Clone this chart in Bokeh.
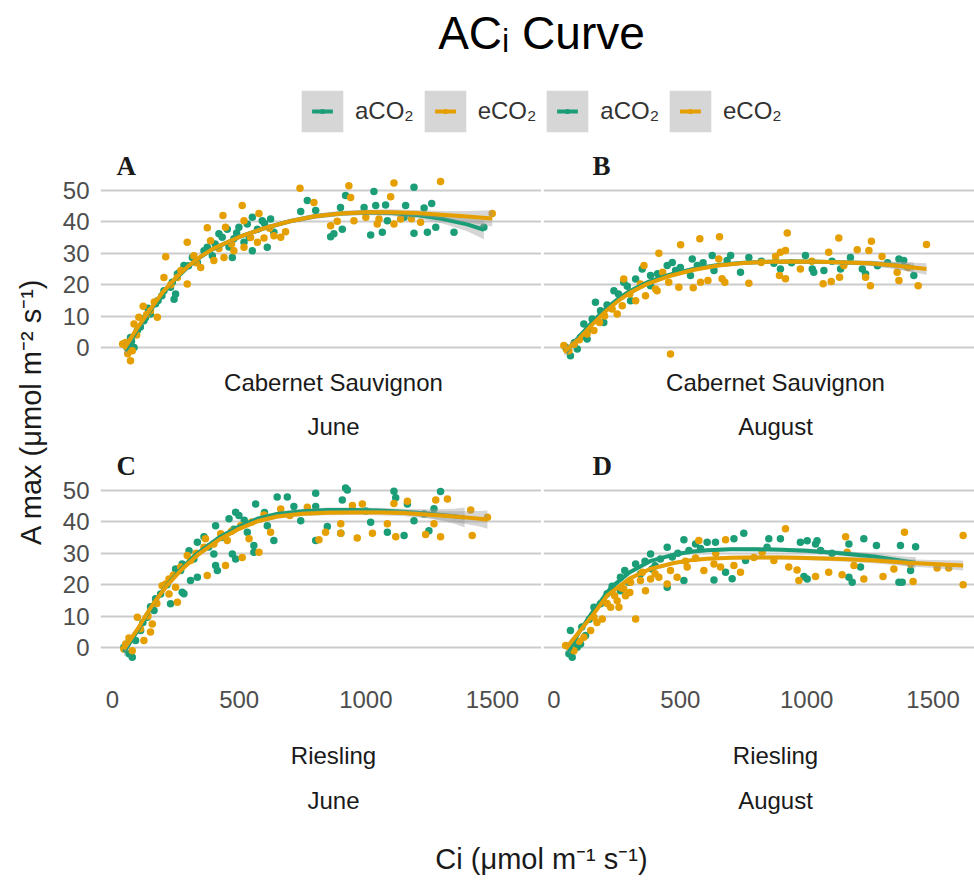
from math import pi
from bokeh.plotting import figure
from bokeh.models import Range1d, FixedTicker, Label, Legend, LegendItem, ColumnDataSource
from bokeh.layouts import column, row
from bokeh.embed import file_html
from bokeh.resources import INLINE

# ---------------- data (Ci, A) ----------------
SERIES = ["aCO₂", "eCO₂"]
CULTIVARS = ["Cabernet Sauvignon", "Riesling"]
MONTHS = ["June", "August"]
TAGS = ["A", "B", "C", "D"]
Y_TICKS = [0, 10, 20, 30, 40, 50]
X_TICKS = [0, 500, 1000, 1500]

PTS_A_ACO2 = [(45,1.1),(60,0.5),(65,-1.0),(71,3.2),(75,2.0),(85,0.0),(98,5.4),(110,6.5),(124,8.5),(130,9.5),
              (140,12.5),(150,10.7),(170,13.9),(180,15.0),(195,16.5),(203,18.1),(229,19.2),(236,20.8),(243,15.4),
              (249,17.0),(256,23.4),(265,24.0),(282,26.1),(300,26.0),(315,28.7),(335,27.1),(361,30.8),(374,31.9),
              (394,29.2),(405,33.0),(420,36.2),(433,35.1),(453,37.7),(460,32.0),(473,28.7),(479,34.6),(490,36.5),
              (499,38.3),(519,33.5),(532,39.3),(540,35.0),(552,41.5),(552,30.8),(572,37.7),(591,40.4),(600,39.5),
              (611,31.9),(624,40.9),(637,36.7),(743,43.3),(769,46.8),(802,43.6),(861,35.3),(874,36.2),(900,44.6),
              (907,37.7),(920,48.4),(993,44.6),(1019,35.8),(1032,49.7),(1039,45.2),(1065,36.7),(1078,45.4),
              (1085,40.4),(1151,41.5),(1157,45.2),(1190,51.0),(1190,36.4),(1230,44.4),(1243,36.7),(1260,45.9),
              (1276,38.3),(1348,36.7),(1466,38.3)]
PTS_A_ECO2 = [(40,1.1),(52,1.6),(60,-2.0),(71,-4.2),(78,-1.0),(85,7.5),(95,4.0),(104,9.6),(121,13.1),(135,10.5),
              (150,11.7),(165,14.5),(177,9.6),(203,22.3),(210,28.9),(230,20.0),(256,22.3),(270,24.5),(295,33.5),
              (295,20.2),(321,29.2),(330,27.0),(348,25.5),(374,38.1),(387,34.0),(400,27.7),(420,31.5),(436,42.0),
              (440,28.7),(446,38.3),(470,33.0),(479,30.8),(512,45.2),(519,31.9),(519,40.4),(545,35.0),(572,33.5),
              (578,42.7),(598,34.9),(620,38.0),(637,35.6),(664,35.1),(683,36.9),(740,50.7),(795,46.2),(861,38.8),
              (887,40.2),(933,51.5),(940,47.8),(953,40.4),(1000,41.5),(1045,39.3),(1052,40.9),(1098,48.0),
              (1111,52.4),(1111,39.3),(1137,40.9),(1180,41.0),(1216,39.9),(1295,52.9),(1499,42.7)]
PTS_B_ACO2 = [(46,0.1),(65,-2.6),(80,1.5),(92,-0.5),(105,3.3),(118,7.5),(131,2.7),(140,6.0),(151,9.1),(164,14.4),
              (184,11.7),(197,8.0),(210,13.5),(237,18.1),(255,17.0),(276,20.8),(290,19.5),(303,14.9),(323,21.8),
              (349,25.0),(382,19.7),(382,22.9),(410,23.5),(448,26.1),(468,27.1),(481,24.5),(500,25.5),(540,22.9),
              (547,28.2),(567,26.1),(590,27.0),(626,29.3),(633,24.5),(685,27.7),(699,29.3),(738,24.0),(771,28.7),
              (820,27.5),(870,26.8),(896,25.0),(940,27.0),(995,29.3),(1022,25.0),(1028,24.0),(1068,24.5),
              (1100,27.5),(1134,25.0),(1173,28.7),(1220,25.0),(1233,23.4),(1280,26.0),(1320,27.0),(1365,28.2),
              (1384,27.7),(1424,22.9)]
PTS_B_ECO2 = [(39,0.6),(59,-1.0),(80,1.0),(100,2.5),(131,4.3),(158,5.4),(180,8.0),(200,10.0),(230,12.3),(250,10.7),
              (270,13.3),(276,21.8),(300,17.0),(323,14.9),(342,20.2),(356,26.1),(362,16.5),(402,18.6),(408,18.1),
              (415,30.0),(430,24.0),(454,20.8),(461,-2.1),(494,19.2),(501,32.7),(551,19.0),(577,34.6),(580,20.8),
              (609,21.3),(652,28.2),(655,35.3),(665,21.9),(676,20.8),(771,20.5),(820,27.1),(877,29.0),(892,22.9),
              (896,30.3),(916,30.9),(916,21.9),(923,36.5),(975,25.0),(1020,27.5),(1065,20.3),(1087,30.3),
              (1097,21.0),(1127,34.9),(1130,22.4),(1147,26.1),(1200,31.1),(1233,22.4),(1246,30.9),(1252,19.7),
              (1256,33.8),(1298,29.0),(1358,24.0),(1365,21.3),(1400,25.5),(1441,19.7),(1474,32.8)]
PTS_C_ACO2 = [(45,0.1),(55,1.0),(65,-2.0),(78,-3.1),(91,2.2),(111,5.4),(120,8.0),(137,9.6),(150,13.0),(164,11.8),
              (170,15.5),(190,17.0),(215,20.0),(229,13.9),(249,25.0),(269,24.5),(275,26.6),(275,17.6),(282,17.1),
              (302,30.8),(308,21.3),(321,28.2),(335,33.5),(335,22.4),(361,35.3),(380,32.0),(400,29.8),(407,38.8),
              (407,26.1),(414,24.5),(430,35.0),(460,41.0),(473,29.8),(479,37.7),(486,43.1),(486,28.2),(499,42.0),
              (520,40.5),(532,36.7),(558,32.5),(558,30.3),(565,45.7),(600,43.0),(611,38.8),(637,34.1),(650,47.9),
              (690,47.9),(716,44.9),(743,40.4),(802,49.1),(802,44.9),(802,34.1),(848,38.5),(901,36.4),(907,47.0),
              (920,50.8),(927,50.2),(1000,43.5),(1019,39.9),(1085,36.7),(1111,49.8),(1118,47.7),(1151,35.7),
              (1164,45.7),(1190,40.4),(1230,42.5),(1249,37.2),(1269,44.2),(1295,49.7)]
PTS_C_ECO2 = [(45,-0.5),(52,1.1),(65,3.0),(78,-1.0),(98,9.6),(110,6.0),(124,2.2),(140,10.0),(150,4.9),(157,7.5),
              (175,14.0),(196,19.7),(210,20.2),(223,21.8),(223,17.0),(240,23.0),(249,19.2),(256,14.4),(269,25.6),
              (295,29.3),(308,27.7),(330,30.0),(361,31.9),(367,34.6),(374,22.9),(400,33.0),(427,36.2),(446,26.1),
              (453,34.1),(470,37.0),(506,38.8),(512,28.7),(539,34.6),(550,40.0),(578,30.3),(598,42.2),(624,36.7),
              (664,44.1),(700,42.0),(769,44.7),(815,34.3),(841,36.7),(901,39.4),(901,36.4),(947,45.2),(966,34.9),
              (986,45.7),(1026,36.4),(1085,39.4),(1111,45.9),(1118,35.3),(1164,46.6),(1236,36.0),(1269,39.4),
              (1276,47.0),(1295,35.3),(1322,47.3),(1414,43.8),(1420,35.7),(1480,41.5)]
PTS_D_ACO2 = [(59,-2.0),(65,5.4),(72,-3.1),(80,2.0),(92,0.1),(105,1.1),(110,6.5),(125,3.8),(140,9.0),(158,12.8),
              (184,13.9),(210,17.1),(230,19.5),(263,22.4),(263,18.1),(280,24.5),(296,20.8),(323,26.6),(342,23.4),
              (360,27.5),(382,29.8),(388,25.0),(400,26.0),(421,28.2),(448,31.9),(448,19.2),(468,28.8),(490,30.0),
              (514,34.3),(514,21.3),(534,30.9),(560,33.0),(580,31.5),(606,33.5),(633,21.5),(639,33.5),(679,24.0),
              (705,21.9),(712,34.6),(751,36.4),(758,27.7),(843,31.9),(850,34.6),(896,34.6),(975,33.5),(989,22.6),
              (1002,21.8),(1002,34.0),(1035,33.0),(1041,34.0),(1055,30.9),(1100,30.0),(1167,33.0),(1167,22.4),
              (1180,20.8),(1213,25.6),(1226,34.6),(1276,32.5),(1365,20.8),(1371,32.5),(1378,20.8),(1411,24.5),
              (1431,32.1)]
PTS_D_ECO2 = [(46,0.6),(79,-1.0),(100,2.0),(118,3.3),(145,5.4),(158,9.6),(170,8.0),(191,9.1),(210,14.0),(224,12.8),
              (240,16.5),(250,14.9),(257,12.8),(265,19.0),(276,18.7),(283,16.5),(300,17.5),(303,20.8),(323,9.1),
              (342,21.3),(350,24.0),(362,18.1),(382,21.8),(400,23.5),(415,22.4),(448,20.2),(461,24.5),(487,22.4),
              (520,27.5),(527,25.6),(560,28.5),(573,34.1),(593,24.5),(633,26.6),(640,30.0),(659,25.6),(679,34.3),
              (712,26.1),(738,24.0),(791,28.7),(824,30.3),(870,27.7),(916,37.8),(929,25.6),(962,24.7),(969,21.3),
              (1035,22.6),(1087,24.0),(1140,23.2),(1154,35.3),(1160,30.3),(1187,26.1),(1226,21.8),(1302,22.6),
              (1345,25.0),(1387,36.7),(1411,26.6),(1421,21.0),(1516,25.3),(1562,25.3),(1619,35.7),(1619,20.0)]

# smoothed fits: (Ci, fit, half-width of the grey band)
FIT_A_ACO2 = [(50,-1.0,1.6),(100,6.0,1.1),(150,11.8,0.9),(200,17.5,0.8),(250,22.0,0.8),(300,25.8,0.7),(350,29.0,0.7),
              (400,31.5,0.7),(500,35.2,0.7),(600,38.0,0.7),(700,40.2,0.7),(800,41.8,0.8),(900,42.7,0.8),(1000,43.0,0.8),
              (1100,42.8,0.9),(1200,42.2,1.0),(1300,41.0,1.4),(1400,39.2,2.2),(1466,37.5,3.0)]
FIT_A_ECO2 = [(45,-0.5,1.6),(100,6.5,1.1),(150,12.2,0.9),(200,17.8,0.8),(250,22.2,0.8),(300,26.0,0.7),(350,29.1,0.7),
              (400,31.6,0.7),(500,35.2,0.7),(600,38.0,0.7),(700,40.2,0.7),(800,41.8,0.8),(900,42.7,0.8),(1000,43.1,0.8),
              (1100,43.1,0.9),(1200,42.8,1.0),(1300,42.3,1.2),(1400,41.7,1.8),(1499,41.1,2.6)]
FIT_B_ACO2 = [(46,-1.5,1.2),(100,3.5,0.9),(150,8.0,0.7),(200,12.0,0.6),(250,15.3,0.6),(300,18.0,0.6),(370,20.8,0.6),
              (450,23.0,0.6),(550,25.0,0.6),(650,26.3,0.6),(750,27.0,0.6),(850,27.3,0.6),(950,27.4,0.6),(1050,27.3,0.6),
              (1150,27.1,0.7),(1250,26.8,0.8),(1350,26.2,1.1),(1424,25.5,1.6)]
FIT_B_ECO2 = [(39,-1.5,1.2),(100,2.8,0.9),(150,7.2,0.7),(200,11.2,0.6),(250,14.6,0.6),(300,17.4,0.6),(370,20.3,0.6),
              (450,22.6,0.6),(550,24.7,0.6),(650,26.1,0.6),(750,26.9,0.6),(850,27.3,0.6),(950,27.4,0.6),(1050,27.3,0.6),
              (1150,27.1,0.7),(1250,26.8,0.8),(1350,26.1,1.1),(1474,25.0,1.8)]
FIT_C_ACO2 = [(45,-1.5,1.5),(100,5.5,1.0),(131,10.0,0.9),(170,15.0,0.8),(216,20.0,0.8),(270,25.0,0.7),(335,30.0,0.7),
              (420,35.0,0.7),(500,38.5,0.7),(572,41.0,0.7),(650,42.5,0.7),(750,43.4,0.8),(850,43.8,0.8),(950,43.8,0.8),
              (1050,43.6,0.9),(1150,43.2,1.0),(1250,42.6,1.4),(1350,41.8,2.4),(1390,41.4,3.2)]
FIT_C_ECO2 = [(45,-0.5,1.5),(100,6.0,1.0),(131,10.2,0.9),(170,15.0,0.8),(216,19.8,0.8),(270,24.6,0.7),(335,29.4,0.7),
              (420,34.3,0.7),(500,37.8,0.7),(572,40.2,0.7),(650,41.7,0.7),(750,42.6,0.8),(850,42.9,0.8),(950,43.0,0.8),
              (1050,43.0,0.9),(1150,42.8,1.0),(1250,42.3,1.2),(1350,41.7,1.7),(1450,41.0,2.5),(1480,40.7,2.9)]
FIT_D_ACO2 = [(59,-1.0,1.3),(100,5.0,0.9),(150,11.0,0.8),(224,19.0,0.7),(300,24.0,0.6),(380,27.5,0.6),(474,29.6,0.6),
              (550,30.6,0.6),(606,31.0,0.6),(700,31.3,0.6),(800,31.3,0.7),(900,31.1,0.7),(1000,30.8,0.7),(1134,30.0,0.8),
              (1266,29.0,1.0),(1397,27.4,1.5),(1431,27.0,1.8)]
FIT_D_ECO2 = [(46,-0.5,1.3),(100,5.0,0.9),(150,10.0,0.8),(210,16.5,0.7),(300,22.0,0.6),(380,25.0,0.6),(474,26.9,0.6),
              (550,27.9,0.6),(606,28.3,0.6),(700,28.6,0.6),(800,28.7,0.7),(900,28.7,0.7),(1000,28.5,0.7),(1134,28.2,0.8),
              (1266,27.7,0.9),(1397,27.0,1.1),(1500,26.6,1.3),(1619,26.1,1.6)]

# ---------------- style ----------------
GREEN = "#1b9e77"
ORANGE = "#e69f00"
BAND = "#999999"
GRID = "#cccccc"
FONT = "Liberation Sans"
SERIF = "Liberation Serif"
TXT = "#1a1a1a"

Y_RANGE_TOP = (-6.05, 62.74)
Y_RANGE_BOTTOM = (-7.96, 62.74)
X_RANGE_LEFT = (-47.4, 1693.4)
X_RANGE_RIGHT = (-41.6, 1664.0)


def blank(width, height):
    f = figure(width=width, height=height, x_range=Range1d(0, 1), y_range=Range1d(0, 1),
               x_axis_location=None, y_axis_location=None, output_backend="svg",
               toolbar_location=None, min_border=0)
    f.grid.visible = False
    f.outline_line_color = None
    return f


def text(fig, x, y, s, size="24px", **kw):
    fig.add_layout(Label(x=x, y=y, x_units="screen", y_units="screen", text=s, text_font=FONT,
                         text_font_size=size, text_align="center", text_baseline="middle",
                         text_color=TXT, **kw))


def cds(pts):
    return ColumnDataSource(dict(ci=[c for c, _ in pts], a=[a for _, a in pts]))


def panel(tag, pts_g, pts_o, fit_g, fit_o, left, bottom):
    bb = 50 if bottom else 0
    frame_h = 222 if bottom else 216
    p = figure(width=485 if left else 433, height=frame_h + bb,
               x_range=Range1d(*(X_RANGE_LEFT if left else X_RANGE_RIGHT)),
               y_range=Range1d(*(Y_RANGE_BOTTOM if bottom else Y_RANGE_TOP)),
               x_axis_location="below" if bottom else None, y_axis_location="left" if left else None,
               output_backend="svg", toolbar_location=None,
               min_border_left=44 if left else 2, min_border_right=0, min_border_top=0, min_border_bottom=bb)
    p.outline_line_color = None
    p.xgrid.visible = False
    p.ygrid.ticker = FixedTicker(ticks=Y_TICKS)
    p.ygrid.grid_line_color = GRID
    p.ygrid.grid_line_width = 2
    for ax in p.axis:
        ax.axis_line_color = None
        ax.major_tick_line_color = None
        ax.minor_tick_line_color = None
        ax.major_tick_out = 0
        ax.major_tick_in = 0
        ax.major_label_text_font = FONT
        ax.major_label_text_font_size = "24px"
        ax.major_label_text_color = "#4d4d4d"
    if left:
        p.yaxis.ticker = FixedTicker(ticks=Y_TICKS)
        p.yaxis.major_label_standoff = 11
    if bottom:
        p.xaxis.ticker = FixedTicker(ticks=X_TICKS)
        p.xaxis.major_label_standoff = 18

    for pts, col in ((pts_g, GREEN), (pts_o, ORANGE)):
        p.scatter("ci", "a", source=cds(pts), size=7.5, fill_color=col, line_color=None)
    for fit, col in ((fit_g, GREEN), (fit_o, ORANGE)):
        src = ColumnDataSource(dict(ci=[f[0] for f in fit], y=[f[1] for f in fit],
                                    lo=[f[1] - f[2] for f in fit], hi=[f[1] + f[2] for f in fit]))
        p.varea(x="ci", y1="lo", y2="hi", source=src, fill_color=BAND, fill_alpha=0.4)
        p.line("ci", "y", source=src, line_color=col, line_width=4)

    p.add_layout(Label(x=16 if left else 49, y=frame_h - 15, x_units="screen", y_units="screen", text=tag,
                       text_font=SERIF, text_font_style="bold", text_font_size="27px",
                       text_baseline="alphabetic", text_color=TXT))
    return p


pA = panel(TAGS[0], PTS_A_ACO2, PTS_A_ECO2, FIT_A_ACO2, FIT_A_ECO2, True, False)
pB = panel(TAGS[1], PTS_B_ACO2, PTS_B_ECO2, FIT_B_ACO2, FIT_B_ECO2, False, False)
pC = panel(TAGS[2], PTS_C_ACO2, PTS_C_ECO2, FIT_C_ACO2, FIT_C_ECO2, True, True)
pD = panel(TAGS[3], PTS_D_ACO2, PTS_D_ECO2, FIT_D_ACO2, FIT_D_ECO2, False, True)

# strip labels between the rows
strip1 = blank(918, 84)
text(strip1, 277, 68, CULTIVARS[0])
text(strip1, 277, 24, MONTHS[0])
text(strip1, 719, 68, CULTIVARS[0])
text(strip1, 719, 24, MONTHS[1])

# header: title + legend (legend glyphs use the panel-A data, kept outside the header's view)
hdr = blank(974, 150)
hdr.add_layout(Label(x=541, y=118, x_units="screen", y_units="screen", text="ACᵢ Curve",
                     text_font=FONT, text_font_size="46px", text_align="center",
                     text_baseline="alphabetic", text_color="black"))
keys = {}
for pts, col in ((PTS_A_ACO2, GREEN), (PTS_A_ECO2, ORANGE)):
    src = cds(pts)
    box = hdr.rect("ci", "a", source=src, width=1, height=1, fill_color=BAND, fill_alpha=0.4, line_color=None)
    dash = hdr.scatter("ci", "a", source=src, marker="dash", size=8, line_color=col, line_width=4)
    dot = hdr.scatter("ci", "a", source=src, marker="dot", size=8, line_color=col, fill_color=col, line_width=2)
    keys[col] = [box, dash, dot]
items = [LegendItem(label=SERIES[0], renderers=keys[GREEN], index=0),
         LegendItem(label=SERIES[1], renderers=keys[ORANGE], index=0),
         LegendItem(label=SERIES[0], renderers=keys[GREEN], index=0),
         LegendItem(label=SERIES[1], renderers=keys[ORANGE], index=0)]
leg = Legend(items=items, orientation="horizontal", location=(296, 13), glyph_width=52, glyph_height=52,
             label_standoff=7, spacing=5, padding=0, margin=0, border_line_color=None,
             background_fill_alpha=0, label_text_font=FONT, label_text_font_size="24px",
             label_text_color="#333333")
hdr.add_layout(leg)

ylab = blank(56, 572)
text(ylab, 30, 311, "A max (μmol m⁻² s⁻¹)", size="29px", angle=pi / 2)

bottom = blank(974, 158)
text(bottom, 333, 125, CULTIVARS[1])
text(bottom, 333, 80, MONTHS[0])
text(bottom, 775, 125, CULTIVARS[1])
text(bottom, 775, 80, MONTHS[1])
text(bottom, 541, 22, "Ci (μmol m⁻¹ s⁻¹)", size="29px")

layout = column(hdr, row(ylab, column(row(pA, pB), strip1, row(pC, pD))), bottom)
open("out.html", "w").write(file_html(layout, INLINE, "ACi Curve"))
